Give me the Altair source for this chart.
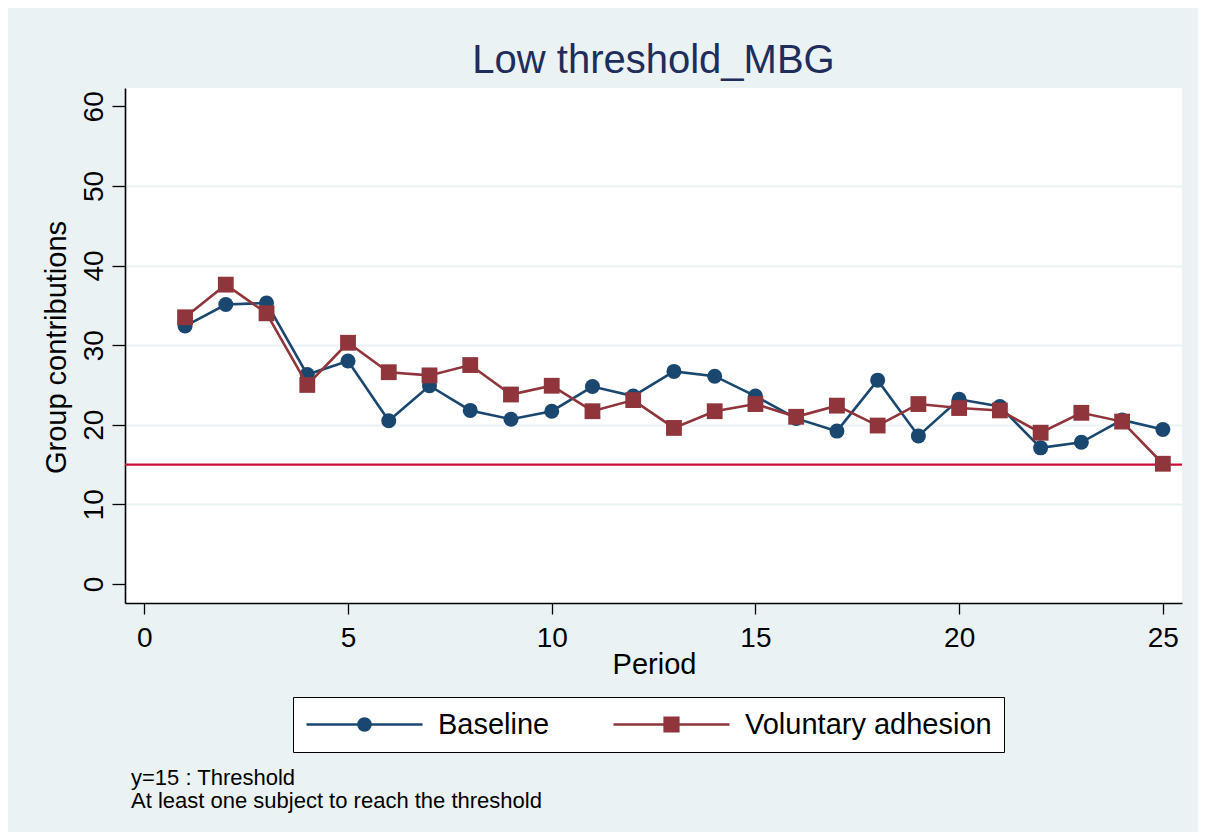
import altair as alt
import pandas as pd

# ---- data ----
periods = list(range(1, 26))
baseline = [32.4, 35.1, 35.3, 26.3, 28.0, 20.5, 24.9, 21.8, 20.7, 21.7,
            24.8, 23.6, 26.7, 26.1, 23.6, 20.8, 19.2, 25.6, 18.6, 23.2,
            22.3, 17.1, 17.8, 20.6, 19.4]
voluntary = [33.5, 37.6, 34.0, 25.0, 30.3, 26.6, 26.2, 27.5, 23.8, 24.9,
             21.7, 23.1, 19.6, 21.7, 22.6, 21.0, 22.4, 19.9, 22.6, 22.1,
             21.8, 19.0, 21.5, 20.4, 15.1]
series_names = ["Baseline", "Voluntary adhesion"]
threshold = [15]
x_ticks = [0, 5, 10, 15, 20, 25]
y_ticks = [0, 10, 20, 30, 40, 50, 60]
title_text = "Low threshold_MBG"
x_title = "Period"
y_title = "Group contributions"
notes = ["y=15 : Threshold", "At least one subject to reach the threshold"]

# ---- styles ----
FONT = "Liberation Sans"
NAVY = "#1A476F"
MAROON = "#90353B"
THRESH = "#C8103A"
BG = "#EAF2F3"

df = pd.DataFrame({
    "period": periods * 2,
    "value": baseline + voluntary,
    "series": [series_names[0]] * len(periods) + [series_names[1]] * len(periods),
})
df_thr = pd.DataFrame({"value": threshold})

x_enc = alt.X(
    "period:Q",
    scale=alt.Scale(domain=[-0.474, 25.47], nice=False, zero=False),
    axis=alt.Axis(
        values=x_ticks, title=x_title, grid=False,
        domainColor="black", domainWidth=1.6,
        tickColor="black", tickWidth=1.3, tickSize=11,
        labelFont=FONT, labelFontSize=28, labelColor="black",
        labelPadding=10, labelFlush=False,
        titleFont=FONT, titleFontSize=29, titleFontWeight="normal",
        titleColor="black", titleBaseline="alphabetic", titleAlign="center",
        titleX=529, titleY=70,
    ),
)

y_axis = alt.Axis(
    values=y_ticks, title=y_title,
    grid=True,
    gridColor={"condition": {"test": "datum.value === 0 || datum.value === 60",
                             "value": "rgba(0,0,0,0)"},
               "value": BG},
    gridWidth=1.8,
    domainColor="black", domainWidth=1.6,
    tickColor="black", tickWidth=1.3, tickSize=13,
    labelFont=FONT, labelFontSize=28, labelColor="black",
    labelAngle=270, labelAlign="center", labelBaseline="alphabetic",
    labelPadding=10, labelFlush=False,
    titleFont=FONT, titleFontSize=29, titleFontWeight="normal",
    titleColor="black", titleAngle=270, titleBaseline="alphabetic",
    titleAlign="center", titleX=-60, titleY=259,
)
y_scale = alt.Scale(domain=[-2.39, 62.3], nice=False, zero=False)
y_enc = alt.Y("value:Q", scale=y_scale, axis=y_axis)

base = alt.Chart(df)

thr = alt.Chart(df_thr).mark_rule(color=THRESH, strokeWidth=2.2).encode(
    y=y_enc
)

def lines_and_points(name, color, shape, size):
    sub = base.transform_filter(alt.datum.series == name)
    ln = sub.mark_line(color=color, strokeWidth=2.6).encode(x=x_enc, y=y_enc)
    pt = sub.mark_point(shape=shape, filled=True, color=color, size=size,
                        opacity=1).encode(x=x_enc, y=y_enc)
    return ln, pt

b_line, b_pts = lines_and_points(series_names[0], NAVY, "circle", 225)
v_line, v_pts = lines_and_points(series_names[1], MAROON, "square", 250)

# legend symbols: a line with a marker in the middle (unit = 58 px)
def circle_path(radii):
    s = "M-1,0H1"
    for r in radii:
        s += f"M{r},0A{r},{r} 0 1,1 {-r},0A{r},{r} 0 1,1 {r},0Z"
    return s

def square_path(halves):
    s = "M-1,0H1"
    for h in halves:
        s += f"M{-h},{-h}H{h}V{h}H{-h}Z"
    return s

circ = circle_path([0.104, 0.084, 0.064, 0.044, 0.024, 0.008])
sq = square_path([0.118, 0.098, 0.078, 0.058, 0.038, 0.018])

leg = alt.Legend(
    orient="none", legendX=168, legendY=609, direction="horizontal",
    title=None, fillColor="white", strokeColor="black", padding=12,
    labelFont=FONT, labelFontSize=29, labelColor="black", labelOffset=14,
    labelLimit=500,
    symbolSize=13456, symbolStrokeWidth=2.5, symbolOpacity=1,
    columnPadding=62, clipHeight=31,
)

legend_layer = base.mark_point(filled=False, opacity=0).encode(
    x=x_enc, y=y_enc,
    color=alt.Color("series:N", scale=alt.Scale(domain=series_names,
                                                range=[NAVY, MAROON]), legend=leg),
    shape=alt.Shape("series:N", scale=alt.Scale(domain=series_names,
                                                range=[circ, sq]), legend=leg),
)

notes_layer = alt.Chart(pd.DataFrame({"n": [0]})).mark_text(
    text=notes, align="left", baseline="alphabetic", font=FONT,
    fontSize=22, lineHeight=23, color="black",
).encode(x=alt.value(6), y=alt.value(697))

chart = alt.layer(
    thr, b_line, b_pts, v_line, v_pts, legend_layer, notes_layer
).properties(
    width=1057, height=515,
    background=BG,
    padding={"left": 117, "top": 80, "right": 16, "bottom": 229},
    autosize=alt.AutoSizeParams(type="none"),
    title=alt.TitleParams(title_text, font=FONT, fontSize=40,
                          fontWeight="normal", color="#1E2D5C",
                          anchor="middle", offset=7),
).configure_view(fill="white", strokeWidth=0)

chart.save("out.html", embed_options={"renderer": "svg", "actions": False})
